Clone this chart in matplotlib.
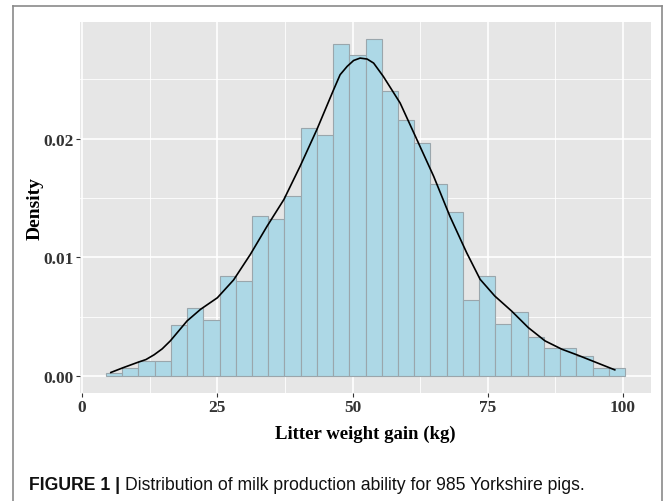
import matplotlib
matplotlib.use("Agg")
import matplotlib.pyplot as plt
import numpy as np
from matplotlib.lines import Line2D
from matplotlib.ticker import MultipleLocator

# histogram (density), bins of width 3 starting at 4.4
bin_start = 4.4
bin_width = 3.0
density = [0.0003, 0.00067, 0.0013, 0.0013, 0.0043, 0.0057, 0.0047, 0.0084,
           0.0080, 0.0135, 0.0132, 0.0152, 0.0209, 0.0203, 0.0280, 0.0270,
           0.0284, 0.0240, 0.0216, 0.0196, 0.0162, 0.0138, 0.0064, 0.0084,
           0.0044, 0.0054, 0.0033, 0.0024, 0.0024, 0.0017, 0.0007, 0.0007]

# density curve
curve_x = [5.3, 7.5, 10.2, 11.8, 13.3, 14.8, 16.3, 19.4, 21.9, 25.0, 28.0,
           31.1, 34.2, 37.3, 40.3, 43.4, 46.5, 47.7, 49.0, 50.2, 51.4, 52.7,
           53.9, 55.7, 58.8, 61.9, 65.0, 68.0, 71.1, 73.6, 76.3, 79.4, 82.5,
           85.6, 88.7, 91.7, 94.8, 98.5]
curve_y = [0.00031, 0.0007, 0.00115, 0.0014, 0.0018, 0.0023, 0.00297,
           0.00465, 0.00563, 0.0066, 0.0081, 0.01025, 0.01263, 0.01487,
           0.01767, 0.02076, 0.02412, 0.02538, 0.02608, 0.02658, 0.02678,
           0.0267, 0.02636, 0.02523, 0.0230, 0.01992, 0.01683, 0.01347,
           0.0104, 0.00815, 0.00675, 0.00549, 0.00409, 0.00297, 0.00227,
           0.00176, 0.0012, 0.00053]

x_ticks = [0, 25, 50, 75, 100]
y_ticks = [0.00, 0.01, 0.02]

fig = plt.figure(figsize=(6.63, 5.02), dpi=100)
ax = fig.add_axes([0.1207, 0.2151, 0.8612, 0.7391])

lefts = bin_start + bin_width * np.arange(len(density))
ax.bar(lefts, density, width=bin_width, align="edge", color="#ADD8E6",
       edgecolor="#9AA6AC", linewidth=0.8, zorder=2)
ax.plot(curve_x, curve_y, color="black", linewidth=1.2, zorder=3)

ax.set_facecolor("#E6E6E6")
ax.set_xlim(-0.4, 105.2)
ax.set_ylim(-0.00142, 0.02982)
ax.set_xticks(x_ticks)
ax.set_yticks(y_ticks)
ax.set_xticklabels([str(t) for t in x_ticks])
ax.set_yticklabels(["%.2f" % t for t in y_ticks])
ax.xaxis.set_minor_locator(MultipleLocator(12.5))
ax.yaxis.set_minor_locator(MultipleLocator(0.005))
ax.grid(True, which="major", color="white", linewidth=1.2, zorder=0)
ax.grid(True, which="minor", color="white", linewidth=0.6, zorder=0)
ax.set_axisbelow(True)
for s in ax.spines.values():
    s.set_visible(False)

ax.tick_params(which="minor", length=0)
ax.tick_params(which="major", length=3, width=0.8, color="#333333", pad=1.5)
for lab in ax.get_xticklabels() + ax.get_yticklabels():
    lab.set_fontfamily("Liberation Serif")
    lab.set_fontweight("bold")
    lab.set_fontsize(12.5)
    lab.set_color("#333333")

ax.set_xlabel("Litter weight gain (kg)", fontfamily="Liberation Serif",
              fontweight="bold", fontsize=13.5, labelpad=7)
ax.set_ylabel("Density", fontfamily="Liberation Serif",
              fontweight="bold", fontsize=14, labelpad=0)

# frame around the figure (no bottom edge)
fc = "#8A8A8A"
fig.add_artist(Line2D([13 / 663, 13 / 663], [0, 1 - 7 / 502], color=fc, lw=1.2))
fig.add_artist(Line2D([13 / 663, 662 / 663], [1 - 7 / 502, 1 - 7 / 502], color=fc, lw=1.2))
fig.add_artist(Line2D([662 / 663, 662 / 663], [0, 1 - 7 / 502], color=fc, lw=1.2))

# caption
t1 = fig.text(29 / 663, 1 - 486 / 502, "FIGURE 1 | ", fontfamily="Liberation Sans",
              fontweight="bold", fontsize=12.7, va="center", color="#111111")
fig.canvas.draw()
bb = t1.get_window_extent()
fig.text(bb.x1 / fig.bbox.width, 1 - 486 / 502,
         "Distribution of milk production ability for 985 Yorkshire pigs.",
         fontfamily="Liberation Sans", fontsize=12.7, va="center", color="#111111")

fig.savefig("out.png", dpi=100)
